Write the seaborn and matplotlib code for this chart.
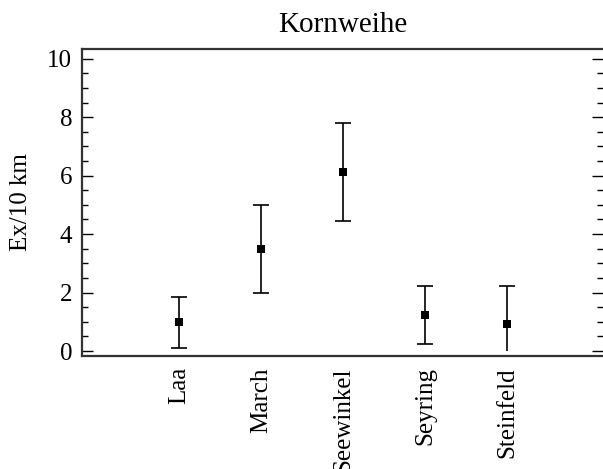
import numpy as np
import matplotlib
matplotlib.use('Agg')
import matplotlib.pyplot as plt
import seaborn as sns
from matplotlib.ticker import MultipleLocator

# Values (Ex/10 km, mean and half-width of the error bar)
sites = ['Laa', 'March', 'Seewinkel', 'Seyring', 'Steinfeld']
means = [0.98, 3.49, 6.13, 1.23, 0.91]
errors = [0.88, 1.50, 1.67, 1.00, 1.33]

sns.set_style('ticks')
plt.rcParams['font.family'] = ['Liberation Serif', 'DejaVu Serif']
plt.rcParams['text.color'] = 'black'
plt.rcParams['axes.labelcolor'] = 'black'
plt.rcParams['xtick.color'] = 'black'
plt.rcParams['ytick.color'] = 'black'

fig = plt.figure(figsize=(6.03, 4.69), dpi=100)
ax = fig.add_axes([0.136, 0.241, 0.864, 0.655])

x = np.arange(len(sites))
means = np.array(means)
errors = np.array(errors)
lower = np.clip(means - errors, 0, None)  # bars are cut at zero
upper = means + errors

# error bars: vertical line + caps (no lower cap where the bar is cut at 0)
ax.vlines(x, lower, upper, color='black', linewidth=1.2, zorder=2)
cap = 0.1
ax.hlines(upper, x - cap, x + cap, color='black', linewidth=1.2, zorder=2)
has_cap = means - errors > 0
ax.hlines(lower[has_cap], x[has_cap] - cap, x[has_cap] + cap,
          color='black', linewidth=1.2, zorder=2)

sns.scatterplot(x=x, y=means, marker='s', s=36, color='black',
                edgecolor='black', linewidth=0, ax=ax, zorder=3)

ax.set_xlim(-1.18, 5.17)
ax.set_ylim(-0.17, 10.34)
ax.set_xticks(x)
ax.set_xticklabels(sites, rotation=90, fontsize=18, color='black')
ax.tick_params(axis='x', length=0, pad=8)

ax.yaxis.set_major_locator(MultipleLocator(2))
ax.yaxis.set_minor_locator(MultipleLocator(0.5))
ax.tick_params(axis='y', which='both', direction='in', right=True,
               labelsize=18, pad=7, width=1.0, color='black',
               labelcolor='black')
ax.tick_params(axis='y', which='major', length=8)
ax.tick_params(axis='y', which='minor', length=4)

ax.set_ylabel('Ex/10 km', fontsize=18, labelpad=11, color='black')
ax.set_title('Kornweihe', fontsize=21, pad=12, color='black')

for side in ['top', 'bottom', 'left']:
    ax.spines[side].set_linewidth(1.6)
    ax.spines[side].set_color('#333333')
ax.spines['right'].set_visible(False)

fig.savefig('out.png', dpi=100)
